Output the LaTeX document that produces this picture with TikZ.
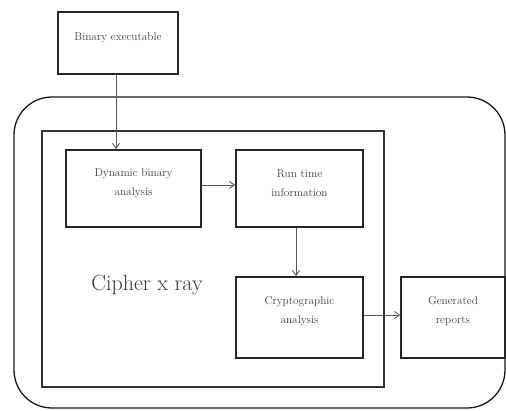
\documentclass[tikz,border=0pt]{standalone}
\usetikzlibrary{arrows.meta,positioning}
\begin{document}
\begin{tikzpicture}[x=1pt,y=-1pt,
  box/.style={draw=black!85,line width=1.6pt,rectangle,inner sep=0pt},
  lbl/.style={text=black!75,font=\fontsize{11.3}{18.5}\selectfont,align=center,inner sep=0pt},
  conn/.style={draw=black!65,line width=0.9pt,-{Straight Barb[length=5pt,width=7pt]}}]
\useasboundingbox (0,0) rectangle (506,410);
% outer rounded frame
\draw[line width=1.3pt,black!90,rounded corners=38pt] (14,97) rectangle (505,408);
% inner frame
\node[box,draw=black!80,line width=2pt,minimum width=342pt,minimum height=256pt] (frame) at (213,259) {};
% boxes
\node[box,minimum width=120pt,minimum height=62pt] (bin) at (118,43) {};
\node[box,minimum width=135pt,minimum height=77pt] (dyn) at (133.5,188.5) {};
\node[box,minimum width=127pt,minimum height=77pt] (run) at (299.5,188.5) {};
\node[box,minimum width=127pt,minimum height=81pt] (cry) at (299.5,317.5) {};
\node[box,minimum width=104pt,minimum height=81pt] (gen) at (453,317.5) {};
% labels
\node[lbl] (binl) at (118,38) {Binary executable};
\node[lbl] (dynl) at (133.5,183) {Dynamic binary\\analysis};
\node[lbl] (runl) at (299.5,183) {Run time\\information};
\node[lbl] (cryl) at (299.5,311) {Cryptographic\\analysis};
\node[lbl] (genl) at (453,311) {Generated\\reports};
\node[text=black!78,font=\fontsize{22}{26}\selectfont,inner sep=0pt] (title) at (147,285) {Cipher x ray};
% connectors
\draw[conn] (bin.south -| 116,0) -- (dyn.north -| 116,0);
\draw[conn] (dyn.east |- 0,185) -- (run.west |- 0,185);
\draw[conn] (run.south -| 296,0) -- (cry.north -| 296,0);
\draw[conn] (cry.east |- 0,315) -- (gen.west |- 0,315);
\end{tikzpicture}
\end{document}
